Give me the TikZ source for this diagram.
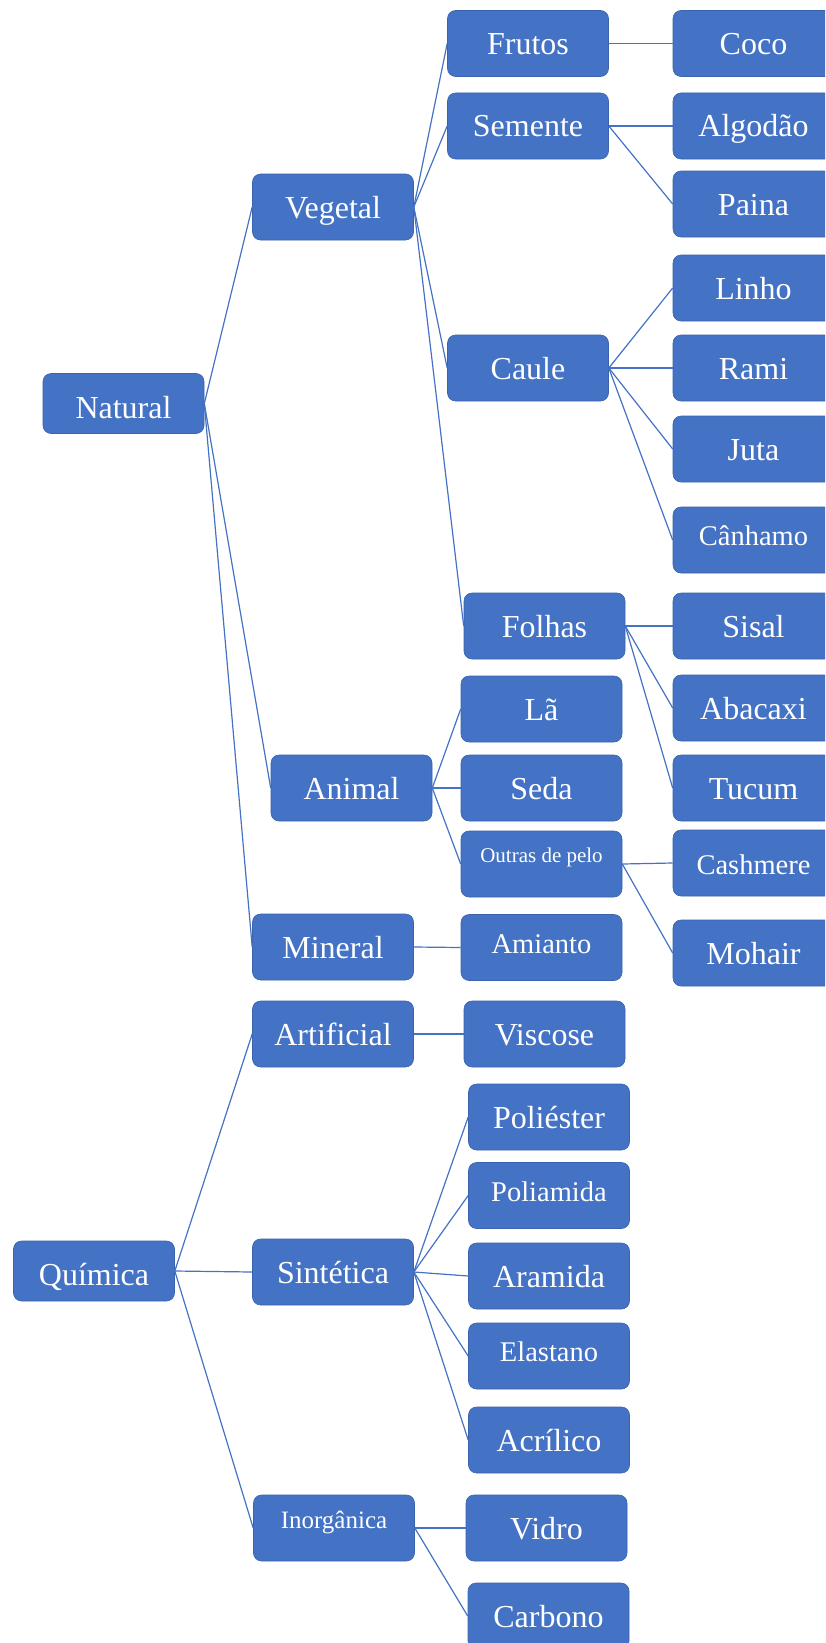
\documentclass[tikz,border=0pt]{standalone}
\usepackage{fontspec}
\setmainfont{Liberation Serif}
\usetikzlibrary{positioning}
\definecolor{fibblue}{HTML}{4472C4}
\definecolor{fibrim}{HTML}{3A63AE}

\begin{document}
\begin{tikzpicture}[x=1pt,y=-1pt,
    fib/.style={rectangle,rounded corners=8pt,fill=fibblue,draw=fibrim,line width=0.6pt,
      minimum width=161pt,minimum height=66pt,inner sep=0pt,text=white,
      font=\fontsize{32}{32}\selectfont,text height=30pt,text depth=8pt},
    fibroot/.style={fib,minimum height=60pt,text height=34pt,text depth=5pt},
    fibmid/.style={fib,font=\fontsize{28.5}{28.5}\selectfont,text height=22pt,text depth=11pt},
    fibsmall/.style={fib,font=\fontsize{25}{25}\selectfont,text height=16pt,text depth=16pt},
    fibtiny/.style={fib,font=\fontsize{21}{21}\selectfont,text height=15pt,text depth=18pt},
    fibline/.style={draw=fibblue,line width=1.2pt}]
    \useasboundingbox (0,0) rectangle (825,1643);
    \clip (0,0) rectangle (825,1643);
    % level 1
    \node[fibroot] (natural) at (123.5,403.5) {Natural};
    \node[fibroot] (quimica) at (94,1271) {Química};
    % level 2
    \node[fib] (vegetal) at (333,207) {Vegetal};
    \node[fib] (animal) at (351.5,788) {Animal};
    \node[fib] (mineral) at (333,947) {Mineral};
    \node[fib] (artificial) at (333,1034) {Artificial};
    \node[fib] (sintetica) at (333,1272) {Sintética};
    \node[fibsmall] (inorganica) at (334,1528) {Inorgânica};
    % level 3
    \node[fib] (frutos) at (528,43.5) {Frutos};
    \node[fib] (semente) at (528,126) {Semente};
    \node[fib] (caule) at (528,368) {Caule};
    \node[fib] (folhas) at (544.5,626) {Folhas};
    \node[fib] (la) at (541.5,709) {Lã};
    \node[fib] (seda) at (541.5,788) {Seda};
    \node[fibtiny] (outras) at (541.5,864) {Outras de pelo};
    \node[fibmid] (amianto) at (541.5,947.5) {Amianto};
    \node[fib] (viscose) at (544.5,1034) {Viscose};
    \node[fib] (poliester) at (549,1117) {Poliéster};
    \node[fibmid] (poliamida) at (549,1195.5) {Poliamida};
    \node[fib] (aramida) at (549,1276) {Aramida};
    \node[fibmid] (elastano) at (549,1356) {Elastano};
    \node[fib] (acrilico) at (549,1440) {Acrílico};
    \node[fib] (vidro) at (546.5,1528) {Vidro};
    \node[fib] (carbono) at (548.5,1616) {Carbono};
    % level 4
    \node[fib] (coco) at (753.5,43.5) {Coco};
    \node[fib] (algodao) at (753.5,126) {Algodão};
    \node[fib] (paina) at (753.5,204) {Paina};
    \node[fib] (linho) at (753.5,288) {Linho};
    \node[fib] (rami) at (753.5,368) {Rami};
    \node[fib] (juta) at (753.5,449) {Juta};
    \node[fibmid] (canhamo) at (753.5,540) {Cânhamo};
    \node[fib] (sisal) at (753.5,626) {Sisal};
    \node[fib] (abacaxi) at (753.5,708) {Abacaxi};
    \node[fib] (tucum) at (753.5,788) {Tucum};
    \node[fib,font=\fontsize{28.5}{28.5}\selectfont] (cashmere) at (753.5,863) {Cashmere};
    \node[fib] (mohair) at (753.5,953) {Mohair};
    % connectors
    \foreach \a/\b in {natural/vegetal,natural/animal,natural/mineral,
        vegetal/frutos,vegetal/semente,vegetal/caule,vegetal/folhas,
        frutos/coco,semente/algodao,semente/paina,
        caule/linho,caule/rami,caule/juta,caule/canhamo,
        folhas/sisal,folhas/abacaxi,folhas/tucum,
        animal/la,animal/seda,animal/outras,outras/cashmere,outras/mohair,
        mineral/amianto,
        quimica/artificial,quimica/sintetica,quimica/inorganica,
        artificial/viscose,
        sintetica/poliester,sintetica/poliamida,sintetica/aramida,sintetica/elastano,sintetica/acrilico,
        inorganica/vidro,inorganica/carbono}
      \draw[fibline] (\a.east) -- (\b.west);
\end{tikzpicture}
\end{document}
